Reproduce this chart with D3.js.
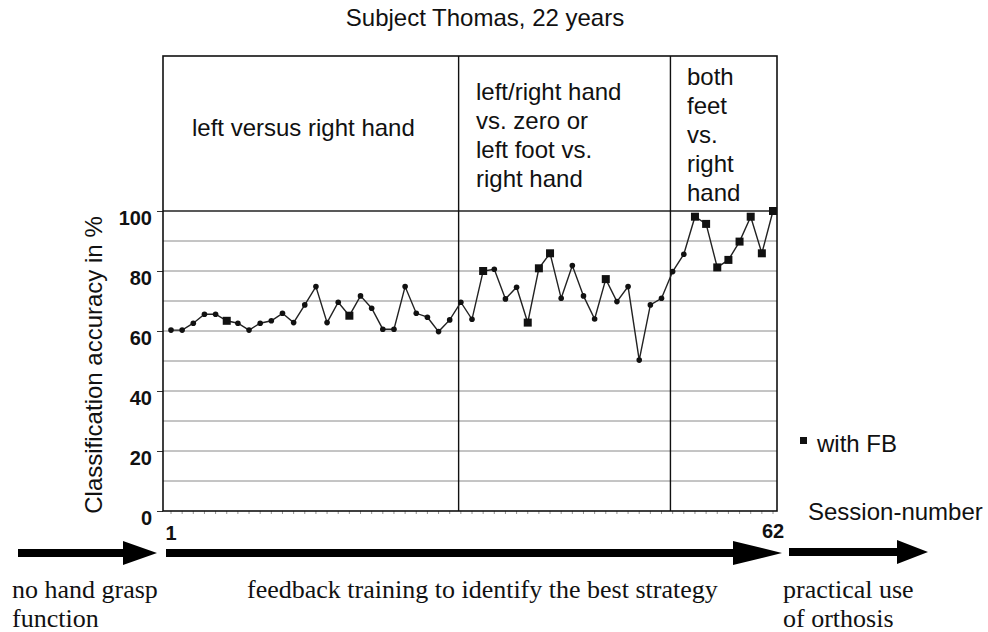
<!DOCTYPE html>
<html>
<head>
  <meta charset="utf-8" />
  <title>Subject Thomas, 22 years</title>
  <script src="https://d3js.org/d3.v7.min.js"></script>
  <style>
    body {
      margin: 0;
      background: #fff;
    }
    svg text {
      font-family: "Liberation Sans", Arial, sans-serif;
      fill: #111;
    }
    svg text.serif {
      font-family: "Liberation Serif", "Times New Roman", serif;
    }
  </style>
</head>
<body>
  <div id="chart"></div>

  <script>
// classification accuracy (%) per plotted session, left to right
var accuracy = [
  60.3, 60.3, 62.6, 65.6, 65.6, 63.4, 62.6, 60.3, 62.6, 63.4,
  65.9, 62.8, 68.7, 74.8, 62.8, 69.6, 65.1, 71.7, 67.6, 60.6,
  60.6, 74.8, 65.9, 64.6, 59.8, 63.7, 69.6, 63.9, 80.0, 80.6,
  70.7, 74.6, 62.8, 80.9, 85.9, 70.9, 81.8, 71.7, 64.0, 77.3,
  69.8, 74.8, 50.3, 68.7, 70.9, 79.8, 85.6, 98.1, 95.7, 81.2,
  83.7, 89.8, 98.1, 85.9, 100
];

// sessions with feedback (1-based index into accuracy)
var withFB = [6, 17, 29, 33, 34, 35, 40, 48, 49, 50, 51, 52, 53, 54, 55];

var yTicks = [0, 20, 40, 60, 80, 100];
var gridLevels = [10, 20, 30, 40, 50, 60, 70, 80, 90, 100];
var sessionLabels = ["1", "62"];

// phase boundaries, in plotted-point units
var phaseBreaks = [26.8, 45.8];
var phaseLabels = [
  ["left versus right hand"],
  ["left/right hand", "vs. zero or", "left foot vs.", "right hand"],
  ["both", "feet", "vs.", "right", "hand"]
];

var bottomTexts = [
  ["no hand grasp", "function"],
  ["feedback training to identify the best strategy"],
  ["practical use", "of orthosis"]
];

var width = 988;
var height = 632;

var frame = { left: 163, right: 777, top: 56, bottom: 511 };

var svg = d3.select("#chart").append("svg")
  .attr("width", width)
  .attr("height", height);

var x = d3.scaleLinear()
  .domain([1, accuracy.length])
  .range([171, 773]);

var y = d3.scaleLinear()
  .domain([0, 100])
  .range([frame.bottom, 211]);

// title
svg.append("text")
  .attr("x", 485)
  .attr("y", 26)
  .attr("text-anchor", "middle")
  .style("font-size", "24px")
  .text("Subject Thomas, 22 years");

// grid lines
svg.append("g")
  .selectAll("line")
  .data(gridLevels)
  .join("line")
  .attr("x1", frame.left)
  .attr("x2", frame.right)
  .attr("y1", d => y(d))
  .attr("y2", d => y(d))
  .attr("stroke", d => d === 100 ? "#222" : "#8a8a8a")
  .attr("stroke-width", d => d === 100 ? 1.4 : 1);

// y axis with bold labels
var yAxis = d3.axisLeft(y)
  .tickValues(yTicks)
  .tickSize(6)
  .tickPadding(5)
  .tickFormat(d3.format("d"));

var gy = svg.append("g")
  .attr("transform", `translate(${frame.left},0)`)
  .call(yAxis);
gy.select(".domain").remove();
gy.selectAll(".tick line").attr("stroke", "#333");
gy.selectAll(".tick text")
  .attr("dy", "0.65em")
  .style("font-size", "20px")
  .style("font-weight", "bold")
  .style("font-family", "'Liberation Sans', Arial, sans-serif")
  .attr("fill", "#111");

// minor ticks along the bottom
svg.append("g")
  .selectAll("line")
  .data(d3.range(1, accuracy.length + 1))
  .join("line")
  .attr("x1", d => x(d))
  .attr("x2", d => x(d))
  .attr("y1", frame.bottom)
  .attr("y2", frame.bottom + 3)
  .attr("stroke", "#777")
  .attr("stroke-width", 0.8);

// frame
svg.append("rect")
  .attr("x", frame.left)
  .attr("y", frame.top)
  .attr("width", frame.right - frame.left)
  .attr("height", frame.bottom - frame.top)
  .attr("fill", "none")
  .attr("stroke", "#111")
  .attr("stroke-width", 1.6);

// phase dividers
svg.append("g")
  .selectAll("line")
  .data(phaseBreaks)
  .join("line")
  .attr("x1", d => x(d))
  .attr("x2", d => x(d))
  .attr("y1", frame.top)
  .attr("y2", frame.bottom)
  .attr("stroke", "#111")
  .attr("stroke-width", 1.4);

// phase labels
var phaseStarts = [192, 476, 687];
var phaseFirstLine = [136, 100, 85];
phaseLabels.forEach(function (lines, i) {
  var t = svg.append("text")
    .attr("x", phaseStarts[i])
    .attr("y", phaseFirstLine[i])
    .style("font-size", "24px");
  t.selectAll("tspan")
    .data(lines)
    .join("tspan")
    .attr("x", phaseStarts[i])
    .attr("dy", (d, j) => j === 0 ? 0 : 29)
    .text(d => d);
});

// y axis title
svg.append("text")
  .attr("transform", "translate(102,365) rotate(-90)")
  .attr("text-anchor", "middle")
  .style("font-size", "24px")
  .text("Classification accuracy in %");

// accuracy line
var line = d3.line()
  .x((d, i) => x(i + 1))
  .y(d => y(d));

svg.append("path")
  .datum(accuracy)
  .attr("d", line)
  .attr("fill", "none")
  .attr("stroke", "#222")
  .attr("stroke-width", 1.4);

var points = accuracy.map((v, i) => ({ s: i + 1, v: v, fb: withFB.includes(i + 1) }));

svg.append("g")
  .selectAll("circle")
  .data(points.filter(d => !d.fb))
  .join("circle")
  .attr("cx", d => x(d.s))
  .attr("cy", d => y(d.v))
  .attr("r", 2.8)
  .attr("fill", "#111");

svg.append("g")
  .selectAll("rect")
  .data(points.filter(d => d.fb))
  .join("rect")
  .attr("x", d => x(d.s) - 4)
  .attr("y", d => y(d.v) - 4)
  .attr("width", 8)
  .attr("height", 8)
  .attr("fill", "#111");

// legend
svg.append("rect")
  .attr("x", 800)
  .attr("y", 437)
  .attr("width", 7)
  .attr("height", 7)
  .attr("fill", "#111");
svg.append("text")
  .attr("x", 817)
  .attr("y", 452)
  .style("font-size", "24px")
  .text("with FB");

// session labels
svg.append("text")
  .attr("x", x(1))
  .attr("y", 540)
  .attr("text-anchor", "middle")
  .style("font-size", "20px")
  .style("font-weight", "bold")
  .text(sessionLabels[0]);
svg.append("text")
  .attr("x", x(accuracy.length))
  .attr("y", 538)
  .attr("text-anchor", "middle")
  .style("font-size", "20px")
  .style("font-weight", "bold")
  .text(sessionLabels[1]);

svg.append("text")
  .attr("x", 808)
  .attr("y", 520)
  .style("font-size", "24px")
  .text("Session-number");

// timeline arrows
var arrows = [
  { x0: 18, head: 123, tip: 157, cy: 553 },
  { x0: 166, head: 733, tip: 782, cy: 553 },
  { x0: 789, head: 897, tip: 928, cy: 552 }
];
svg.append("g")
  .selectAll("path")
  .data(arrows)
  .join("path")
  .attr("d", a => {
    var p = d3.path();
    p.moveTo(a.x0, a.cy - 4);
    p.lineTo(a.head, a.cy - 4);
    p.lineTo(a.head, a.cy - 12);
    p.lineTo(a.tip, a.cy);
    p.lineTo(a.head, a.cy + 12);
    p.lineTo(a.head, a.cy + 4);
    p.lineTo(a.x0, a.cy + 4);
    p.closePath();
    return p.toString();
  })
  .attr("fill", "#000");

// timeline captions
var captionX = [12, 247, 783];
bottomTexts.forEach(function (lines, i) {
  var t = svg.append("text")
    .attr("class", "serif")
    .attr("x", captionX[i])
    .attr("y", 598)
    .style("font-size", "26px");
  t.selectAll("tspan")
    .data(lines)
    .join("tspan")
    .attr("x", captionX[i])
    .attr("dy", (d, j) => j === 0 ? 0 : 29)
    .text(d => d);
});
  </script>
</body>
</html>
